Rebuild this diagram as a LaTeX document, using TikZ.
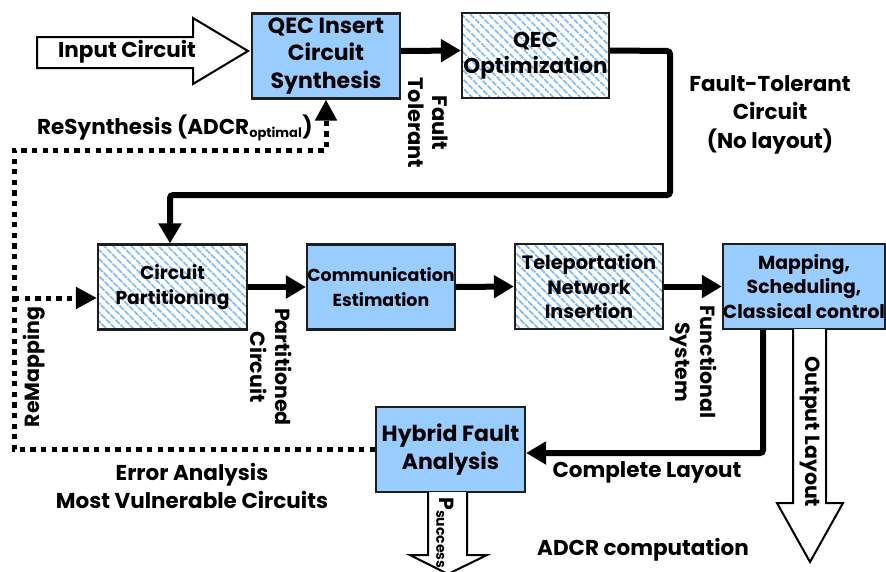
\documentclass[tikz,border=0pt]{standalone}
\usepackage{fontspec}
\setmainfont{Poppins}
\usetikzlibrary{arrows.meta,patterns.meta}

\definecolor{boxblue}{RGB}{153,204,255}
\definecolor{hatchblue}{RGB}{130,188,245}
\definecolor{edge}{RGB}{30,30,30}

\tikzset{
  fs/.style 2 args={font=\fontsize{#1}{#2}\selectfont\bfseries},
  box/.style={draw=edge, line width=2.2pt, minimum width=#1, minimum height=85pt,
    inner sep=0pt, align=center, fs={18.5}{24.5}},
  solidbox/.style={box=#1, fill=boxblue},
  hatchbox/.style={box=#1, preaction={fill=white},
    preaction={pattern={Lines[angle=-45,distance=6.5pt,line width=2.2pt]}, pattern color=hatchblue}},
  flow/.style={line width=6pt, rounded corners=3pt, -{Triangle[length=20pt,width=22pt]}},
  feedback/.style={line width=5pt, dash pattern=on 5.3pt off 5.3pt, -{Triangle[length=21pt,width=21pt]}},
  hollow/.style={draw=black, line width=2pt, fill=white, line join=miter},
  lbl/.style={fs={21.5}{28.5}, align=center, inner sep=0pt},
  vlbl/.style={fs={20.5}{25}, align=center, inner sep=0pt},
}

\begin{document}
\begin{tikzpicture}[x=1pt,y=-1pt]
\useasboundingbox (0,0) rectangle (886,571);

% hollow input arrow
\draw[hollow] (37,37) -- (193,37) -- (193,18) -- (248,51) -- (193,84) -- (193,68) -- (37,68) -- cycle;
\node[lbl] (inlbl) at (127,52) {Input Circuit};

% process boxes
\node[solidbox=148pt, fs={22}{27.5}] (qins) at (326,56) {QEC Insert\\Circuit\\Synthesis};
\node[hatchbox=147pt, fs={21.5}{25.5}] (qopt) at (535.5,55.5) {QEC\\Optimization};
\node[hatchbox=149pt, fs={18.7}{25}] (cp) at (172.5,287) {Circuit\\Partitioning};
\node[solidbox=148pt, fs={17.4}{25}] (ce) at (381,287) {Communication\\Estimation};
\node[hatchbox=148pt, fs={19.3}{24.5}] (tel) at (589,286.5) {Teleportation\\Network\\Insertion};
\node[solidbox=160pt, fs={18.8}{24.5}] (map) at (804,286.5) {Mapping,\\Scheduling,\\Classical control};
\node[solidbox=149pt, fs={22}{28}] (hyb) at (450.5,449.5) {Hybrid Fault\\Analysis};

% main flow
\coordinate (r1) at (670,51);
\coordinate (r2) at (670,195);
\coordinate (r3) at (170,195);
\coordinate (r4) at (763,453);
\draw[flow] ([yshift=5pt]qins.east) -- ([yshift=5pt]qopt.west);
\draw[flow] ([yshift=5pt]qopt.east) -- (r1) -- (r2) -- (r3) -- (r3 |- cp.north);
\draw[flow] (cp.east) -- (ce.west);
\draw[flow] (ce.east) -- (tel.west);
\draw[flow] (tel.east) -- (map.west);
\draw[flow] (r4 |- map.south) -- (r4) -- (r4 -| hyb.east);

% feedback loops
\coordinate (f1) at (14,150);
\coordinate (f2) at (14,298);
\draw[feedback] (hyb.west) -| (f1) -| (qins.south);
\draw[feedback] (f2) -- (f2 -| cp.west);

% hollow output arrows
\draw[hollow] (793,329) -- (793,503) -- (777,503) -- (810,562) -- (843,503) -- (826,503) -- (826,329);
\draw[hollow] (428,492) -- (428,555) -- (410,555) -- (448,574) -- (487,555) -- (467,555) -- (467,492);
\node[vlbl, rotate=-90] (outlbl) at (810,432) {Output Layout};
\node[vlbl, rotate=-90, anchor=west] (psucc) at (445,497) {P$_{\mbox{\fontsize{14}{14}\selectfont\bfseries success}}$};

% labels
\node[vlbl, rotate=-90, fs={21}{24}] (ftlbl) at (428,123) {Fault\\Tolerant};
\node[lbl] (ftclbl) at (770,114.5) {Fault-Tolerant\\Circuit\\(No layout)};
\node[lbl, anchor=west] (rslbl) at (37,128) {ReSynthesis (ADCR$_{\mbox{\fontsize{13}{13}\selectfont\bfseries optimal}}$)};
\node[vlbl, rotate=90] (rmlbl) at (34,367) {ReMapping};
\node[vlbl, rotate=-90] (pclbl) at (271,367) {Partitioned\\Circuit};
\node[vlbl, rotate=-90] (fslbl) at (693,362) {Functional\\System};
\node[lbl] (cllbl) at (647,472) {Complete Layout};
\node[lbl] (ealbl) at (192,486) {Error Analysis\\Most Vulnerable Circuits};
\node[lbl] (adlbl) at (643,550) {ADCR computation};
\end{tikzpicture}
\end{document}
